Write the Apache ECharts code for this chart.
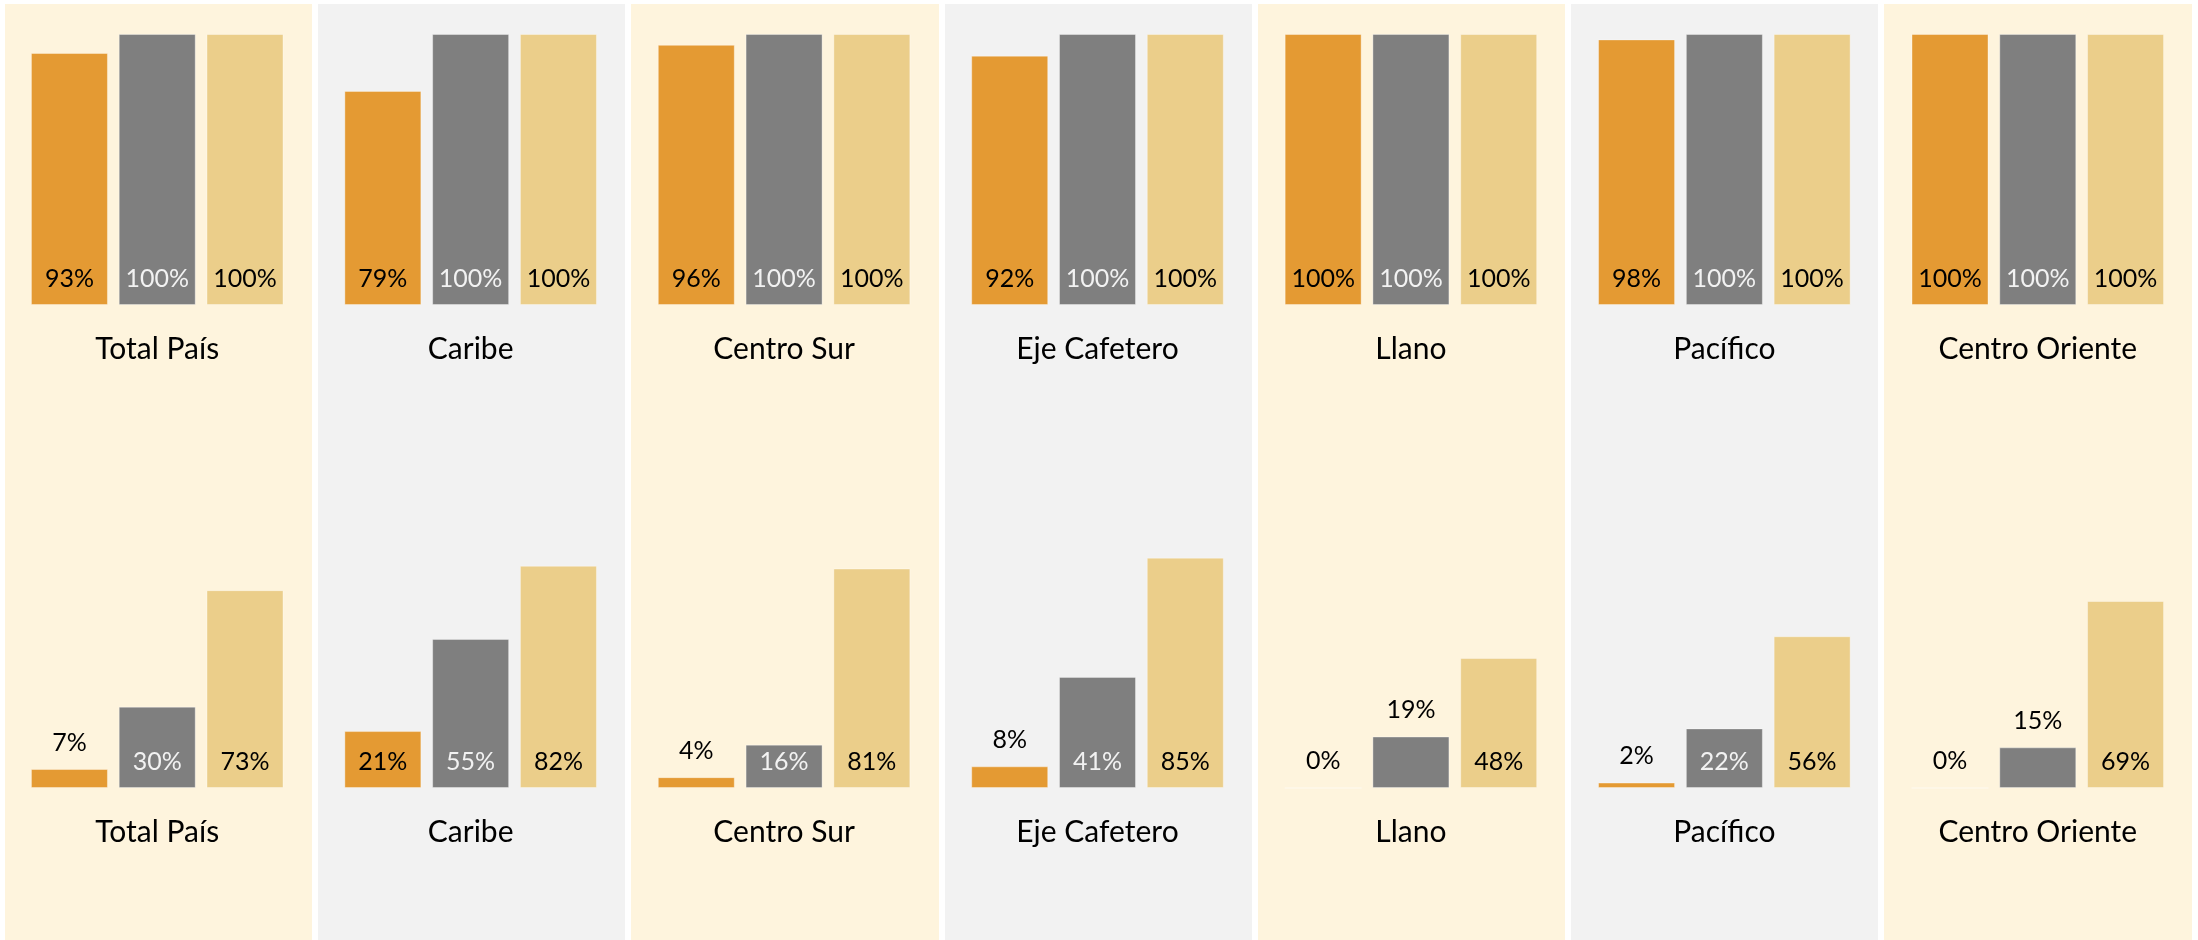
<!DOCTYPE html>
<html>
<head>
<meta charset="utf-8">
<script src="https://cdn.jsdelivr.net/npm/echarts@6/dist/echarts.min.js"></script>
<style>
  html, body { margin: 0; padding: 0; background: #fff; }
  #chart { width: 2198px; height: 940px; }
</style>
</head>
<body>
<div id="chart"></div>
<script>
// regiones
const regiones = ['Total País', 'Caribe', 'Centro Sur', 'Eje Cafetero', 'Llano', 'Pacífico', 'Centro Oriente'];

// fila superior (%)
const arribaNaranja = [93, 79, 96, 92, 100, 98, 100];
const arribaGris = [100, 100, 100, 100, 100, 100, 100];
const arribaAmarillo = [100, 100, 100, 100, 100, 100, 100];

// fila inferior (%)
const abajoNaranja = [7, 21, 4, 8, 0, 2, 0];
const abajoGris = [30, 55, 16, 41, 19, 22, 15];
const abajoAmarillo = [73, 82, 81, 85, 48, 56, 69];

// etiquetas grises que van encima de la barra
const grisArriba = ['Llano', 'Centro Oriente'];

const FUENTE = 'Lato';
const NARANJA = '#E49A33';
const GRIS = '#7F7F7F';
const AMARILLO = '#EBCE8A';

const chart = echarts.init(document.getElementById('chart'));

//etiqueta dentro, en la base
function etiquetaBase(color) {
  return {
    show: true,
    position: 'insideBottom',
    distance: 14,
    color: color,
    fontFamily: FUENTE,
    fontSize: 25,
    formatter: p => p.value + '%'
  };
}

const etiquetaEncima = { position: 'top', distance: 14, color: '#000' };

function serieBarra(fila, datos, color, colorEtiqueta, encima) {
  return {
    type: 'bar',
    xAxisIndex: fila,
    yAxisIndex: fila,
    barWidth: 77,
    barGap: '14%',
    silent: true,
    itemStyle: { color: color, borderColor: 'rgba(255,255,255,0.35)', borderWidth: 1 },
    label: etiquetaBase(colorEtiqueta),
    data: datos.map((v, i) => encima && encima(v, i) ? { value: v, label: etiquetaEncima } : v)
  };
}

function ejeX(grid, show) {
  return {
    type: 'category',
    gridIndex: grid,
    data: regiones,
    axisLine: { show: false },
    axisTick: { show: false },
    axisLabel: {
      show: show,
      interval: 0,
      margin: 29,
      color: '#000',
      fontFamily: FUENTE,
      fontSize: 30
    },
    splitLine: { show: false }
  };
}

const option = {
  backgroundColor: '#ffffff',
  animation: false,
  grid: [
    { left: 1.5, right: 3.5, top: 4, bottom: 0 },   // fondo de columnas
    { left: 0.5, right: 3.5, top: 34, height: 271 }, // fila superior
    { left: 0.5, right: 3.5, top: 517, height: 271 } // fila inferior
  ],
  xAxis: [
    Object.assign(ejeX(0, false), {
      splitArea: { show: true, interval: 0, areaStyle: { color: ['#FEF4DD', '#F2F2F2'] } },
      splitLine: { show: true, interval: 0, lineStyle: { color: '#ffffff', width: 6 } }
    }),
    ejeX(1, true),
    ejeX(2, true)
  ],
  yAxis: [0, 1, 2].map(g => ({
    type: 'value',
    gridIndex: g,
    min: 0,
    max: 100,
    show: false
  })),
  series: [
    serieBarra(1, arribaNaranja, NARANJA, '#000'),
    serieBarra(1, arribaGris, GRIS, '#F2F2F2'),
    serieBarra(1, arribaAmarillo, AMARILLO, '#000'),
    serieBarra(2, abajoNaranja, NARANJA, '#000', v => v < 10),
    serieBarra(2, abajoGris, GRIS, '#F2F2F2', (v, i) => grisArriba.includes(regiones[i])),
    serieBarra(2, abajoAmarillo, AMARILLO, '#000')
  ]
};

chart.setOption(option);
</script>
</body>
</html>
